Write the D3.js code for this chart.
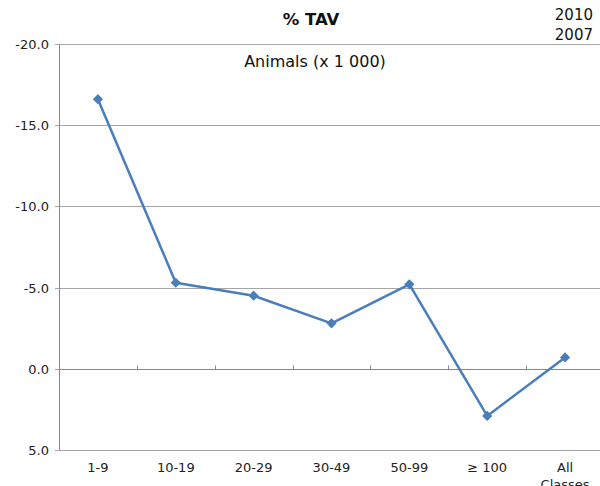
<!DOCTYPE html>
<html><head><meta charset="utf-8">
<script src="https://cdn.jsdelivr.net/npm/d3@7"></script>
<style>body{margin:0;background:#fff}svg{display:block;font-family:"DejaVu Sans",Verdana,sans-serif}</style>
</head><body><svg id="c" width="600" height="486"></svg>
<script>
const categories = ["1-9","10-19","20-29","30-49","50-99","≥ 100","All Classes"];
const values = [-16.6,-5.3,-4.5,-2.8,-5.2,2.9,-0.7];
const yTicks = [-20,-15,-10,-5,0,5];

const svg = d3.select("#c");
const L=59, R=604, T=44, B=450;
const x = d3.scaleBand().domain(categories).range([L,R]).padding(0);
const y = d3.scaleLinear().domain([-20,5]).range([T,B]);

// gridlines
svg.append("g").selectAll("line").data(yTicks).join("line")
  .attr("x1",L-4).attr("x2",600).attr("y1",d=>Math.round(y(d))+0.5).attr("y2",d=>Math.round(y(d))+0.5)
  .attr("stroke","#a6a6a6").attr("stroke-width",1);
// left axis line
svg.append("line").attr("x1",L+0.5).attr("x2",L+0.5).attr("y1",T).attr("y2",B)
  .attr("stroke","#888").attr("stroke-width",1);
// y labels
svg.append("g").selectAll("text").data(yTicks).join("text")
  .attr("x",L-10).attr("y",d=>y(d)+5).attr("text-anchor","end")
  .attr("font-size",13).attr("fill","#222").text(d=>d3.format(".1f")(d).replace("−","-"));
// x axis at 0
const y0 = Math.round(y(0))+0.5;
svg.append("line").attr("x1",L).attr("x2",600).attr("y1",y0).attr("y2",y0).attr("stroke","#888");
svg.append("g").selectAll("line").data(categories.slice(1)).join("line")
  .attr("x1",d=>Math.round(x(d))+0.5).attr("x2",d=>Math.round(x(d))+0.5)
  .attr("y1",y0-4).attr("y2",y0).attr("stroke","#888");
// x labels
const xl = svg.append("g").selectAll("text").data(categories).join("text")
  .attr("x",d=>x(d)+x.bandwidth()/2).attr("y",472).attr("text-anchor","middle")
  .attr("font-size",13).attr("fill","#222");
xl.each(function(d){
  const words = d==="All Classes" ? ["All","Classes"] : [d];
  const t = d3.select(this);
  words.forEach((w,i)=>t.append("tspan").attr("x",x(d)+x.bandwidth()/2).attr("dy",i?17:0).text(w));
});
// line
const line = d3.line().x((d,i)=>x(categories[i])+x.bandwidth()/2).y(d=>y(d));
svg.append("path").datum(values).attr("d",line).attr("fill","none")
  .attr("stroke","#4a7ebb").attr("stroke-width",2.5).attr("stroke-linejoin","round");
svg.append("g").selectAll("path").data(values).join("path")
  .attr("d",d3.symbol(d3.symbolSquare,52)())
  .attr("transform",(d,i)=>`translate(${x(categories[i])+x.bandwidth()/2},${y(d)}) rotate(45)`)
  .attr("fill","#4a7ebb");
// texts
svg.append("text").attr("x",311).attr("y",25).attr("text-anchor","middle")
  .attr("font-size",16.5).attr("font-weight","bold").attr("fill","#111").text("% TAV");
svg.append("text").attr("x",593).attr("y",20).attr("text-anchor","end").attr("font-size",15).attr("fill","#111").text("2010");
svg.append("text").attr("x",593).attr("y",40).attr("text-anchor","end").attr("font-size",15).attr("fill","#111").text("2007");
svg.append("text").attr("x",315).attr("y",67).attr("text-anchor","middle").attr("font-size",16).attr("fill","#111").text("Animals (x 1 000)");
</script></body></html>
